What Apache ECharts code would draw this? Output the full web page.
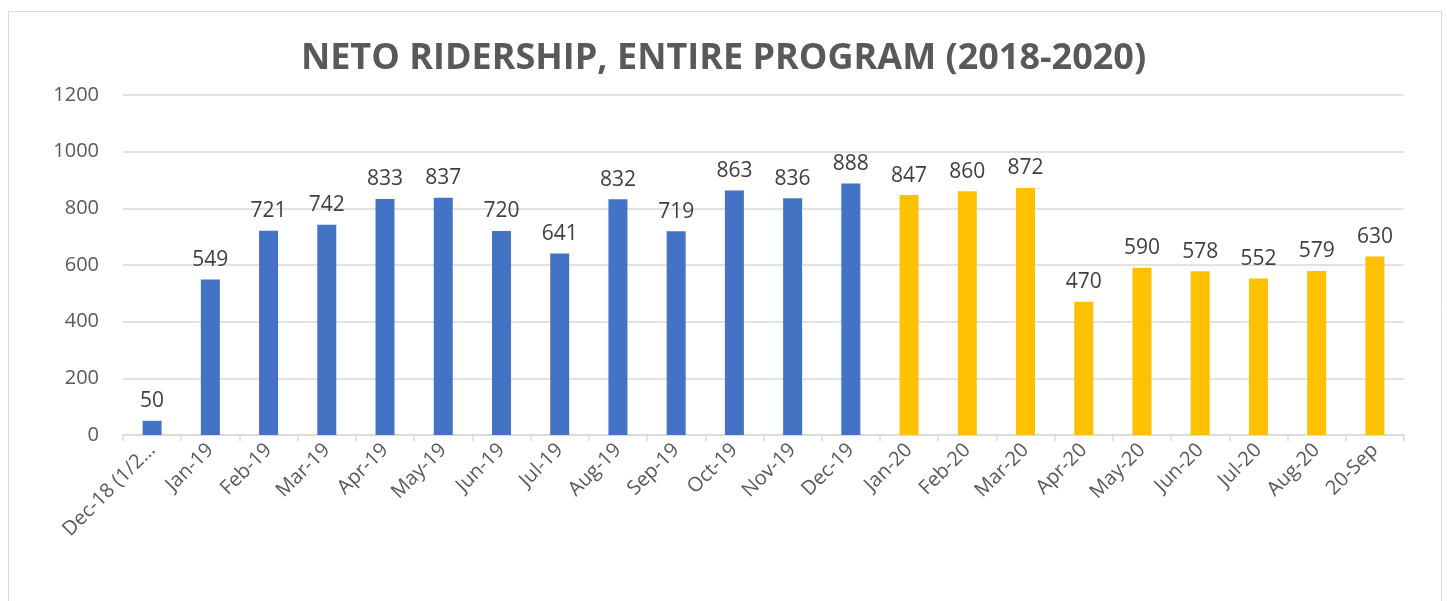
<!DOCTYPE html>
<html>
<head>
<meta charset="utf-8">
<script src="https://cdn.jsdelivr.net/npm/echarts@6/dist/echarts.min.js"></script>
<style>
  html, body { margin: 0; padding: 0; background: #fff; }
  #chart { width: 1447px; height: 601px; }
</style>
</head>
<body>
<div id="chart"></div>
<script>
// 月份
var months = ['Dec-18 (1/2…', 'Jan-19', 'Feb-19', 'Mar-19', 'Apr-19', 'May-19', 'Jun-19', 'Jul-19',
    'Aug-19', 'Sep-19', 'Oct-19', 'Nov-19', 'Dec-19', 'Jan-20', 'Feb-20', 'Mar-20', 'Apr-20',
    'May-20', 'Jun-20', 'Jul-20', 'Aug-20', '20-Sep'];
// 2018-2019 (蓝色)
var riders2019 = [50, 549, 721, 742, 833, 837, 720, 641, 832, 719, 863, 836, 888,
    '-', '-', '-', '-', '-', '-', '-', '-', '-'];
// 2020 (黄色)
var riders2020 = ['-', '-', '-', '-', '-', '-', '-', '-', '-', '-', '-', '-', '-',
    847, 860, 872, 470, 590, 578, 552, 579, 630];
var yTicks = [0, 200, 400, 600, 800, 1000, 1200];

var font = 'Open Sans';
var chart = echarts.init(document.getElementById('chart'));

function barSeries(name, data, color) {
    return {
        name: name,
        type: 'bar',
        stack: 'all',
        data: data,
        barWidth: 19,
        itemStyle: { color: color },
        label: {
            show: true,
            position: 'top',
            distance: 9,
            color: '#404040',
            fontFamily: font,
            fontSize: 21
        }
    };
}

var option = {
    animation: false,
    title: {
        text: 'NETO RIDERSHIP, ENTIRE PROGRAM (2018-2020)',
        left: 'center',
        top: 36,
        textStyle: {
            fontFamily: font,
            fontWeight: 'bold',
            fontSize: 36,
            color: '#595959'
        }
    },
    graphic: [{
        type: 'rect',
        shape: { x: 8.5, y: 11.5, width: 1433, height: 620 },
        style: { fill: null, stroke: '#d9d9d9', lineWidth: 1 },
        silent: true
    }],
    grid: { left: 123, right: 43, top: 95, bottom: 166 },
    xAxis: {
        type: 'category',
        data: months,
        axisLine: { lineStyle: { color: '#d9d9d9', width: 1.5 } },
        axisTick: { show: true, length: 6, lineStyle: { color: '#d9d9d9', width: 1.5 } },
        axisLabel: {
            rotate: 45,
            interval: 0,
            color: '#595959',
            fontFamily: font,
            fontSize: 20,
            margin: 12
        }
    },
    yAxis: {
        type: 'value',
        min: yTicks[0],
        max: yTicks[yTicks.length - 1],
        interval: 200,
        axisLine: { show: false },
        axisTick: { show: false },
        splitLine: { lineStyle: { color: '#d9d9d9', width: 1.5 } },
        axisLabel: {
            color: '#595959',
            fontFamily: font,
            fontSize: 20,
            margin: 24,
            formatter: function (v) { return String(v); }
        }
    },
    series: [
        barSeries('2018-2019', riders2019, '#4472C4'),
        barSeries('2020', riders2020, '#FFC000')
    ]
};
chart.setOption(option);
</script>
</body>
</html>
